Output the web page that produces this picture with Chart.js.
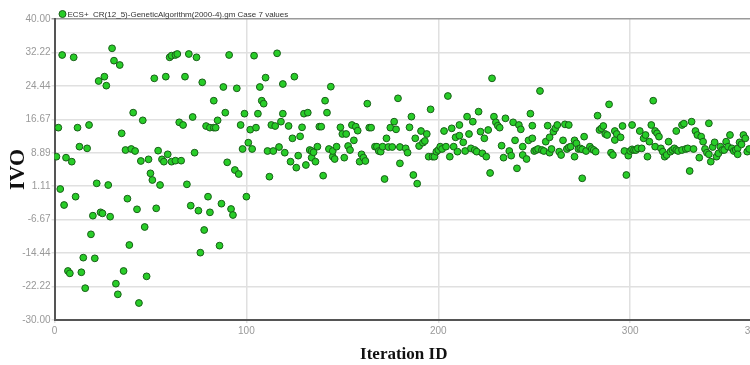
<!DOCTYPE html>
<html>
<head>
<meta charset="utf-8">
<script src="https://cdn.jsdelivr.net/npm/chart.js@4.4.1/dist/chart.umd.min.js"></script>
<style>
    html, body { margin: 0; padding: 0; background: #fff; overflow: hidden; width: 750px; height: 365px; }
    #wrap { width: 780px; height: 365px; }
</style>
</head>
<body>
<div id="wrap"><canvas id="chart1" width="780" height="365"></canvas></div>
<script>
// values, one point per iteration
const iterationIds = [
    1,2,3,4,5,6,7,8,9,10,11,12,13,14,15,16,17,18,19,20,
    21,22,23,24,25,26,27,28,29,30,31,32,33,34,35,36,37,38,39,40,
    41,42,43,44,45,46,47,48,49,50,51,52,53,54,55,56,57,58,59,60,
    61,61,63,63,64,65,66,67,68,69,70,71,72,73,74,75,76,77,78,79,
    80,81,81,83,83,84,85,86,87,88,89,90,91,92,93,94,95,96,97,98,
    99,100,101,102,103,104,105,106,107,108,109,110,111,112,113,114,115,116,117,118,
    119,119,120,
    122,123,124,125,126,127,128,129,130,131,132,133,134,134,135,136,137,138,139,140,
    141,142,143,144,145,145,146,147,149,150,151,152,153,154,155,156,157,158,159,160,
    161,162,163,164,165,167,168,169,170,171,172,173,174,175,176,177,178,179,180,180,
    183,184,185,186,187,188,189,190,191,192,193,194,195,196,197,198,199,200,201,202,
    203,204,205,206,207,208,209,210,211,211,213,214,215,216,217,218,219,220,221,222,
    223,224,225,226,227,228,229,230,231,232,233,234,235,237,238,239,240,241,242,
    243,244,244,246,247,248,249,249,250,251,252,253,254,255,256,257,258,258,259,260,
    261,262,263,264,265,266,267,268,268,269,271,271,272,273,274,275,275,276,277,279,
    280,281,282,283,284,285,286,287,288,289,290,291,292,292,293,295,296,297,298,299,
    300,301,
    301,302,303,304,305,306,307,308,309,310,311,312,313,313,314,315,316,317,318,319,
    320,321,322,323,324,324,325,327,327,328,329,330,331,332,333,334,335,336,337,338,
    339,340,341,341,342,343,344,345,346,347,348,349,350,351,352,353,354,355,356,356,
    357,358,359,360,361,362
];

const ivoValues = [
    7.98,14.73,0.46,31.63,-3.26,7.75,-18.6,-19.15,6.82,31.09,
    -1.32,14.73,10.31,-18.9,-15.5,-22.6,9.92,15.35,-10.08,-5.74,
    -15.66,1.78,25.58,-4.96,-5.2,26.59,24.5,1.39,-5.97,33.18,
    30.31,-21.55,-24.03,29.3,13.41,-18.6,9.53,-1.78,-12.56,9.77,
    18.22,9.3,-4.26,-26.05,6.98,16.43,-8.37,-19.85,7.36,4.11,
    2.56,26.2,-4.03,9.38,1.39,7.36,6.82,26.59,8.53,31.09,
    6.82,31.47,7.05,31.63,31.86,15.97,7.05,15.35,26.59,1.55,
    31.86,-3.41,17.21,8.91,31.09,-4.57,-14.34,25.27,-9.07,15.11,
    -1.32,-4.96,14.73,21.0,14.73,14.73,16.43,-12.71,-2.95,24.19,
    18.22,6.67,31.63,-4.19,-5.58,4.88,23.88,3.95,15.35,9.77,
    17.98,-1.32,11.24,14.26,9.77,31.47,14.73,17.98,24.19,21.0,
    20.31,26.36,9.3,3.33,15.35,9.3,15.11,32.02,10.23,16.12,
    17.98,24.88,8.91,
    15.12,6.82,12.25,26.59,5.43,8.22,12.71,14.81,17.98,6.05,
    18.22,9.53,7.75,9.3,9.0,6.82,10.31,14.96,14.96,3.57,
    21.0,18.22,9.77,24.26,7.98,9.3,7.44,10.31,14.81,13.26,
    7.75,13.26,10.46,9.53,15.35,11.78,14.96,14.03,6.82,8.53,
    7.75,6.98,20.31,14.73,14.73,10.31,10.31,9.3,9.15,10.31,
    2.79,12.25,10.23,14.73,10.23,16.12,14.34,21.55,10.23,6.43,
    9.92,8.91,14.81,17.29,3.72,12.25,1.71,10.46,13.95,11.24,
    11.63,13.26,7.98,18.99,7.98,7.98,9.15,9.53,10.31,9.77,
    13.95,10.31,22.09,7.98,14.57,10.31,12.48,9.15,12.87,15.35,
    11.32,9.3,17.29,13.26,9.92,16.12,9.53,9.15,18.45,13.8,
    8.76,12.25,7.98,14.19,4.19,26.2,17.29,15.97,15.19,14.73,
    10.54,7.75,16.9,9.3,8.22,15.97,11.78,5.27,15.35,
    14.34,8.37,10.31,7.44,11.78,17.98,15.19,12.25,9.3,9.53,
    9.77,23.26,9.53,9.3,11.47,15.19,12.48,8.91,9.77,13.8,
    14.57,15.35,9.15,8.37,11.78,15.5,9.77,15.35,10.15,10.31,
    11.78,7.98,11.09,9.77,9.92,2.95,9.69,12.64,9.3,10.31,
    9.77,9.53,9.15,17.52,14.19,14.57,15.12,13.26,13.02,20.15,
    8.91,8.37,13.95,11.86,13.26,12.48,15.12,9.3,3.72,8.22,
    9.3,9.69,
    15.35,9.53,9.53,9.92,13.95,9.92,12.25,13.02,7.98,11.47,
    15.35,21.0,10.31,13.95,13.41,12.64,9.92,9.15,7.98,8.37,
    11.47,9.15,9.53,9.92,13.95,9.53,9.3,15.35,9.53,15.66,
    9.77,9.92,4.65,16.12,9.77,13.95,13.02,7.75,12.64,11.47,
    9.77,8.91,15.74,8.53,6.82,10.23,11.32,7.98,8.76,10.31,
    9.53,9.53,11.47,10.31,13.02,9.92,9.3,9.53,9.92,8.53,
    11.32,10.85,13.02,12.25,9.15,9.77
];

const xTicks = [0, 100, 200, 300, 364];
const yTicks = [-30.00, -22.22, -14.44, -6.67, 1.11, 8.89, 16.67, 24.44, 32.22, 40.00];
const seriesName = 'ECS+  CR(12_5)-GeneticAlgorithm(2000-4).gm Case 7 values';

const pointFill = 'rgb(40, 205, 40)';
const pointEdge = 'rgb(25, 95, 25)';

// small legend drawn just above the plot, like the original
const seriesLabel = {
    id: 'seriesLabel',
    afterDraw(chart) {
        const c = chart.ctx;
        const a = chart.chartArea;
        c.save();
        c.beginPath();
        c.arc(a.left + 8, a.top - 5, 3.5, 0, Math.PI * 2);
        c.fillStyle = pointFill;
        c.fill();
        c.lineWidth = 1;
        c.strokeStyle = pointEdge;
        c.stroke();
        c.font = '8px "Liberation Sans Narrow", "Liberation Sans", sans-serif';
        c.fillStyle = '#333';
        c.textBaseline = 'middle';
        c.fillText(seriesName, a.left + 13, a.top - 4);
        c.restore();
    }
};

const tickFont = { family: '"Liberation Sans Narrow", "Liberation Sans", sans-serif', size: 10 };

const points = iterationIds.map((id, i) => ({ x: id, y: ivoValues[i] }));

new Chart(document.getElementById('chart1'), {
    type: 'scatter',
    data: {
        datasets: [{
            label: seriesName,
            data: points,
            backgroundColor: pointFill,
            borderColor: pointEdge,
            borderWidth: 1,
            pointRadius: 3.4
        }]
    },
    options: {
        responsive: false,
        animation: false,
        devicePixelRatio: 1,
        layout: { padding: { top: 19, right: 27, bottom: 0, left: 0 } },
        plugins: {
            legend: { display: false },
            tooltip: { enabled: false }
        },
        scales: {
            x: {
                type: 'linear',
                min: 0,
                max: 364,
                afterBuildTicks: s => { s.ticks = xTicks.map(v => ({ value: v })); },
                afterFit: s => { s.height = 45; },
                ticks: { font: tickFont, color: '#999', maxRotation: 0, autoSkip: false, padding: 2 },
                grid: { color: '#e0e0e0', lineWidth: 1.5, tickLength: 3 },
                border: { color: '#555', width: 2 },
                title: {
                    display: true,
                    text: 'Iteration ID',
                    color: '#111',
                    font: { family: '"Liberation Serif", serif', size: 17, weight: 'bold' },
                    padding: { top: 4, bottom: 0 }
                }
            },
            y: {
                min: -30,
                max: 40,
                afterBuildTicks: s => { s.ticks = yTicks.map(v => ({ value: v })); },
                afterFit: s => { s.width = 54.5; },
                ticks: { font: tickFont, color: '#999', padding: 1, callback: v => v.toFixed(2) },
                grid: {
                    color: c => (c.tick && c.tick.value === 40) ? '#9a9a9a' : '#e0e0e0',
                    lineWidth: 1.5,
                    tickLength: 3
                },
                border: { color: '#555', width: 2 },
                title: {
                    display: true,
                    text: 'IVO',
                    color: '#111',
                    font: { family: '"Liberation Serif", serif', size: 22, weight: 'bold' },
                    padding: { top: 5, bottom: 0 }
                }
            }
        }
    },
    plugins: [seriesLabel]
});
</script>
</body>
</html>
